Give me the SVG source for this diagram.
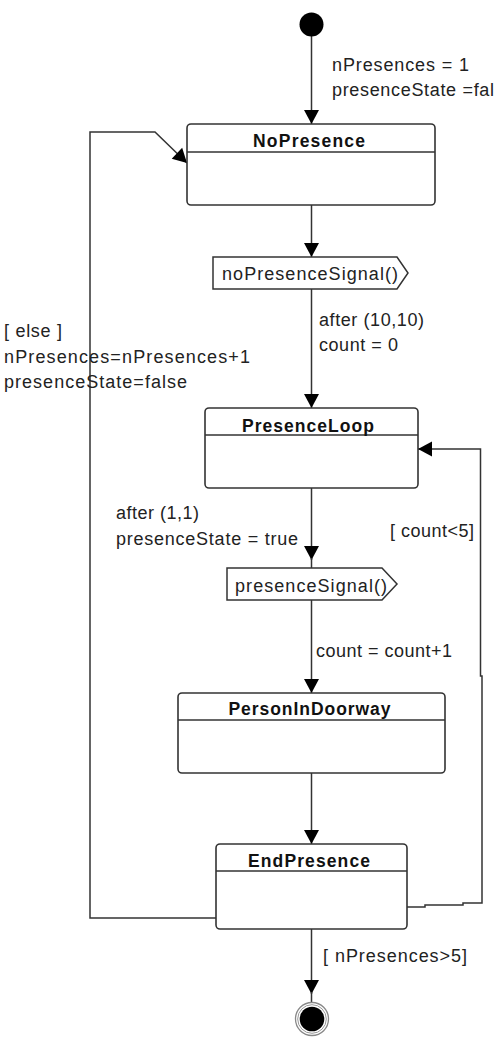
<svg xmlns="http://www.w3.org/2000/svg" width="495" height="1040" viewBox="0 0 495 1040">
<style>
.bg{fill:#fff}
.box{fill:#fff;stroke:#333;stroke-width:1.6}
.sep{stroke:#333;stroke-width:1.6}
.sig{fill:#fff;stroke:#333;stroke-width:1.5}
.edge{fill:none;stroke:#333;stroke-width:1.5}
.arr{marker-end:url(#ah)}
.lbl{font-family:"Liberation Sans",Arial,sans-serif;font-size:18px;fill:#222}
.ttl{font-family:"Liberation Sans",Arial,sans-serif;font-size:17.5px;font-weight:bold;fill:#111;text-anchor:middle}
</style>
<defs>
<marker id="ah" markerUnits="userSpaceOnUse" markerWidth="15" markerHeight="15" refX="14" refY="7.5" orient="auto" overflow="visible">
<path d="M0,0 L14,7.5 L0,15 z" fill="#000"/>
</marker>
</defs>
<rect class="bg" x="0" y="0" width="495" height="1040"/>

<g id="connectors">
<line class="edge arr" x1="311.5" y1="36" x2="311.5" y2="124"/>
<line class="edge arr" x1="311.5" y1="205" x2="311.5" y2="257"/>
<line class="edge arr" x1="311.5" y1="289" x2="311.5" y2="408"/>
<line class="edge arr" x1="311.5" y1="488" x2="311.5" y2="560"/>
<line class="edge" x1="311.5" y1="558" x2="311.5" y2="568"/>
<line class="edge arr" x1="311.5" y1="600" x2="311.5" y2="693"/>
<line class="edge arr" x1="311.5" y1="773" x2="311.5" y2="844"/>
<line class="edge arr" x1="311.5" y1="929" x2="311.5" y2="994"/>
<line class="edge" x1="311.5" y1="992" x2="311.5" y2="1003"/>
<polyline class="edge arr" points="216,918 90,918 90,132 155,132 187,163"/>
<polyline class="edge arr" points="407,907 425,907 425,905 463,905 463,903 482,903 482,676 480.5,676 480.5,449 418,449"/>
</g>

<g id="labels">
<text class="lbl" x="332" y="71" textLength="137" lengthAdjust="spacing">nPresences = 1</text>
<text class="lbl" x="332" y="96" textLength="162" lengthAdjust="spacing">presenceState =fal</text>
<text class="lbl" x="4" y="337" textLength="58" lengthAdjust="spacing">[ else ]</text>
<text class="lbl" x="4" y="362.5" textLength="246" lengthAdjust="spacing">nPresences=nPresences+1</text>
<text class="lbl" x="4" y="387.5" textLength="183" lengthAdjust="spacing">presenceState=false</text>
<text class="lbl" x="319" y="326" textLength="105" lengthAdjust="spacing">after (10,10)</text>
<text class="lbl" x="319" y="350.5" textLength="79" lengthAdjust="spacing">count = 0</text>
<text class="lbl" x="116" y="519" textLength="83" lengthAdjust="spacing">after (1,1)</text>
<text class="lbl" x="116" y="545" textLength="182" lengthAdjust="spacing">presenceState = true</text>
<text class="lbl" x="390" y="537" textLength="84" lengthAdjust="spacing">[ count&lt;5]</text>
<text class="lbl" x="316" y="657" textLength="136" lengthAdjust="spacing">count = count+1</text>
<text class="lbl" x="323" y="962" textLength="144" lengthAdjust="spacing">[ nPresences&gt;5]</text>
</g>

<g id="initial">
<circle cx="311.5" cy="24.5" r="12" fill="#000"/>
</g>

<g id="NoPresence">
<rect class="box" x="187" y="124" width="248" height="81" rx="4"/>
<line class="sep" x1="187" y1="152" x2="435" y2="152"/>
<text class="ttl" x="309" y="146.5" textLength="112" lengthAdjust="spacing">NoPresence</text>
</g>

<g id="noPresenceSignal">
<polygon class="sig" points="213,257 397,257 408,273 397,289 213,289"/>
<text class="lbl" x="222" y="280" textLength="176" lengthAdjust="spacing">noPresenceSignal()</text>
</g>

<g id="PresenceLoop">
<rect class="box" x="205" y="408" width="213" height="80" rx="4"/>
<line class="sep" x1="205" y1="435" x2="418" y2="435"/>
<text class="ttl" x="308" y="431.5" textLength="132" lengthAdjust="spacing">PresenceLoop</text>
</g>

<g id="presenceSignal">
<polygon class="sig" points="227,568 382,568 397,584 382,600 227,600"/>
<text class="lbl" x="235" y="591.5" textLength="152" lengthAdjust="spacing">presenceSignal()</text>
</g>

<g id="PersonInDoorway">
<rect class="box" x="178" y="693" width="267" height="80" rx="4"/>
<line class="sep" x1="178" y1="720" x2="445" y2="720"/>
<text class="ttl" x="309.5" y="715" textLength="162" lengthAdjust="spacing">PersonInDoorway</text>
</g>

<g id="EndPresence">
<rect class="box" x="216" y="844" width="191" height="85" rx="4"/>
<line class="sep" x1="216" y1="871" x2="407" y2="871"/>
<text class="ttl" x="309" y="867" textLength="122" lengthAdjust="spacing">EndPresence</text>
</g>

<g id="final">
<circle cx="312" cy="1019" r="16.5" fill="#fff" stroke="#888" stroke-width="1.3"/>
<circle cx="312" cy="1019" r="14.3" fill="none" stroke="#999" stroke-width="1"/>
<circle cx="312" cy="1019" r="12.3" fill="#000"/>
</g>
</svg>
